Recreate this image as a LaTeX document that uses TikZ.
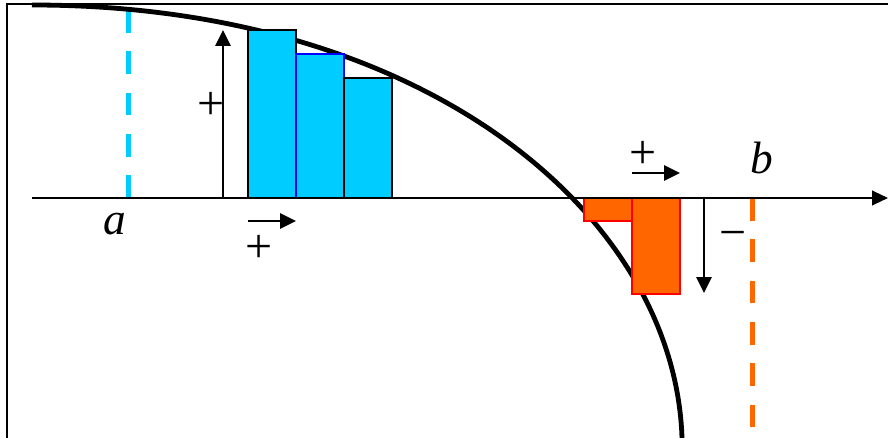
\documentclass[tikz,border=0pt]{standalone}
\usepackage{fontspec}
\setmainfont{Liberation Serif}
\usetikzlibrary{arrows.meta}
\definecolor{riCyan}{HTML}{00CCFF}
\definecolor{riOrange}{HTML}{FF6600}
\definecolor{riRed}{HTML}{FF0000}
\definecolor{riBlue}{HTML}{0000FF}
\tikzset{
  frameline/.style ={black,line width=1.6pt},
  axisline/.style  ={-{Triangle[length=12pt,width=11pt]},black,line width=1.6pt},
  curveline/.style ={black,line width=3.6pt},
  guide/.style     ={line width=3.75pt,dash pattern=on 17pt off 14pt},
  posbar/.style    ={fill=riCyan,draw=black,line width=1.3pt},
  negbar/.style    ={fill=riOrange,draw=riRed,line width=1.3pt},
  flow/.style      ={-{Triangle[length=12pt,width=11.5pt]},black,line width=1.4pt},
  sign/.style      ={inner sep=0pt,font=\fontsize{36}{36}\selectfont},
  ends/.style      ={inner sep=0pt,font=\fontsize{34}{34}\selectfont\itshape},
}
\begin{document}
\begin{tikzpicture}[x=0.75pt,y=-0.75pt]
\useasboundingbox (0,0) rectangle (888,438);
%% frame
\draw[frameline] (7,438) -- (7,4) -- (888,4);
%% limits a and b
\draw[guide,riCyan] (128,198) -- (128,5);
\draw[guide,riOrange] (752,198) -- (752,438);
%% the curve
\draw[curveline] (32,5) .. controls (430,5) and (675,218) .. (682,438);
%% bars above and below the axis
\draw[posbar] (248,30) rectangle (296,198);
\draw[posbar,draw=riBlue] (296,54) rectangle (344,198);
\draw[posbar] (344,78) rectangle (392,198);
\draw[negbar] (584,198) rectangle (632,221);
\draw[negbar] (632,198) rectangle (680,294);
%% axis
\coordinate (orig) at (32,198);
\coordinate (xend) at (888,198);
\draw[axisline] (orig) -- (xend);
%% direction arrows
\coordinate (upfoot) at (223,198);
\coordinate (uptip) at (223,30);
\coordinate (dnfoot) at (704,198);
\coordinate (dntip) at (704,293);
\coordinate (stepL) at (248,221);
\coordinate (stepLtip) at (296,221);
\coordinate (stepR) at (632,173);
\coordinate (stepRtip) at (680,173);
\draw[flow] (upfoot) -- (uptip);
\draw[flow] (dnfoot) -- (dntip);
\draw[flow] (stepL) -- (stepLtip);
\draw[flow] (stepR) -- (stepRtip);
%% labels
\node[ends] (lblA) at (115,224) {a};
\node[ends] (lblB) at (762,158) {b};
\node[sign] (sgnUp) at (211,106) {+};
\node[sign] (sgnStepL) at (259,249) {+};
\node[sign] (sgnStepR) at (643,155) {+};
\node[sign] (sgnDn) at (733,240) {−};
\end{tikzpicture}
\end{document}
